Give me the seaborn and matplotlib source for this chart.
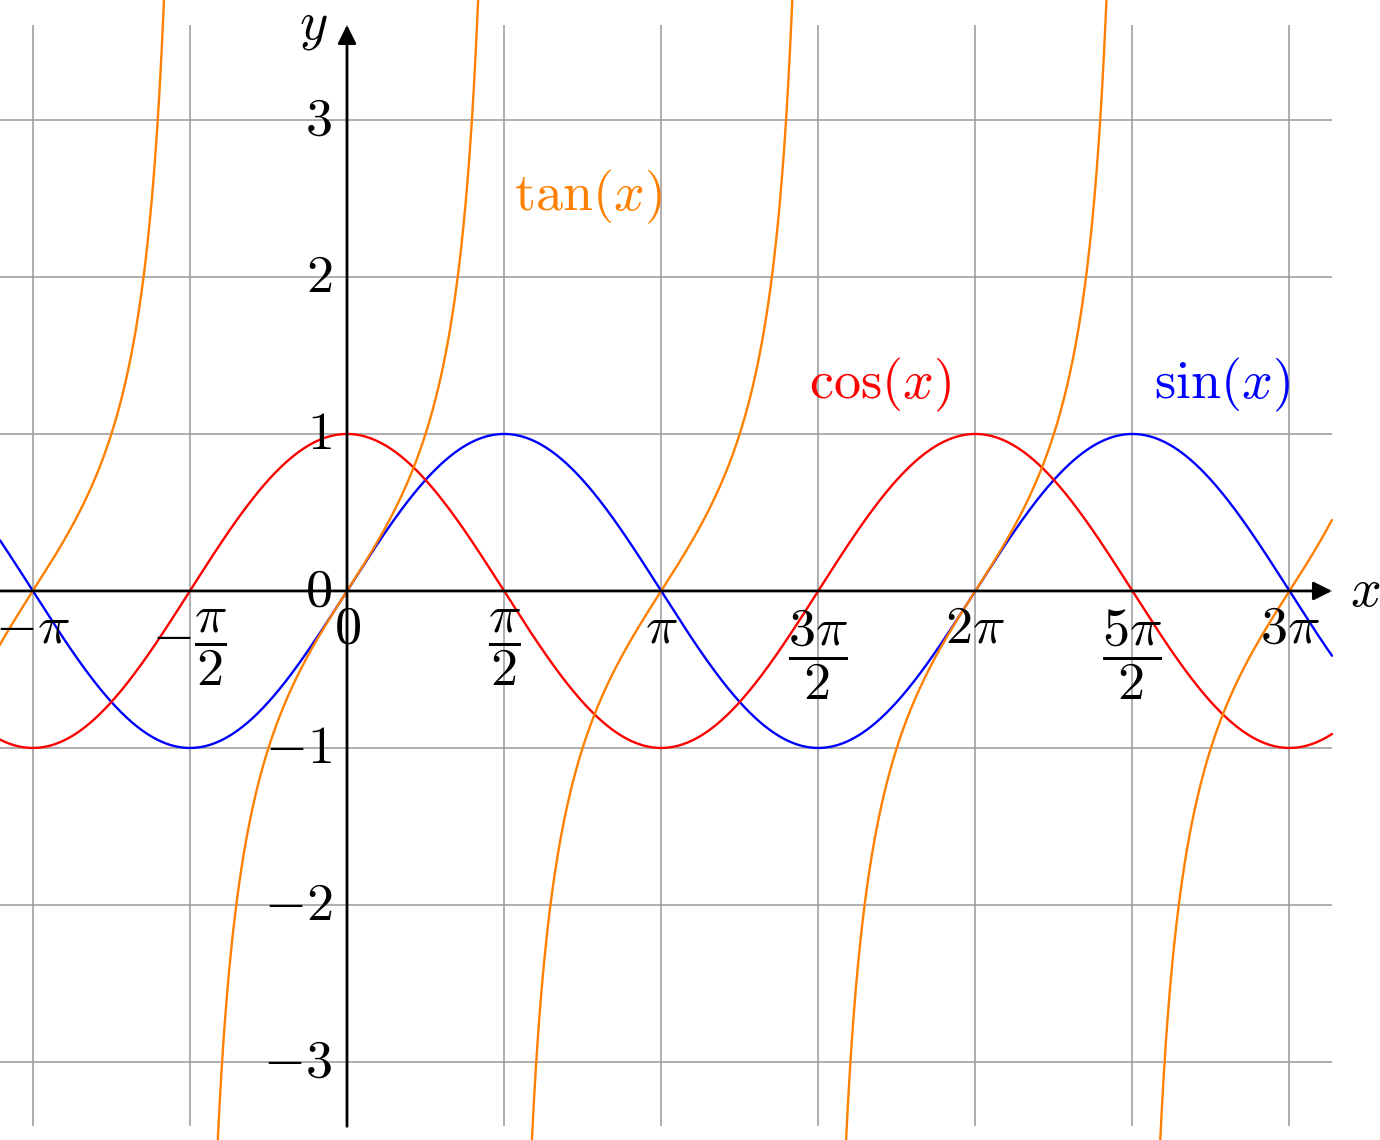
import numpy as np
import pandas as pd
import matplotlib
matplotlib.use("Agg")
import matplotlib.pyplot as plt
import seaborn as sns

# plotting domain and view
x_start, x_end = -3.47, 9.85
y_low, y_high = -3.41, 3.605
view_x = (-3.47, 10.33)
view_y = (-3.497, 3.764)

# ticks
x_ticks = [-np.pi, -np.pi / 2, 0, np.pi / 2, np.pi, 3 * np.pi / 2, 2 * np.pi, 5 * np.pi / 2, 3 * np.pi]
x_tick_labels = [r'$-\pi$', r'$-\dfrac{\pi}{2}$', r'$0$', r'$\dfrac{\pi}{2}$', r'$\pi$',
                 r'$\dfrac{3\pi}{2}$', r'$2\pi$', r'$\dfrac{5\pi}{2}$', r'$3\pi$']
y_ticks = [-3, -2, -1, 0, 1, 2, 3]
y_tick_labels = [r'$-3$', r'$-2$', r'$-1$', r'$0$', r'$1$', r'$2$', r'$3$']

# functions and labels
func_names = ['sin', 'cos', 'tan']
func_colors = {'sin': '#0000ff', 'cos': '#ff0000', 'tan': '#ff8000'}
func_labels = [r'$\sin(x)$', r'$\cos(x)$', r'$\tan(x)$']
label_pos = [(8.75, 1.31), (5.33, 1.31), (2.41, 2.51)]

sns.set_style('white')
plt.rcParams['mathtext.fontset'] = 'cm'
plt.rcParams['font.family'] = ['DejaVu Serif']

# build curve table
xs = np.linspace(x_start, x_end, 2000)
frames = [
    pd.DataFrame({'x': xs, 'y': np.sin(xs), 'func': 'sin', 'branch': 'sin'}),
    pd.DataFrame({'x': xs, 'y': np.cos(xs), 'func': 'cos', 'branch': 'cos'}),
]
# tan: one piece per branch between asymptotes
for k in range(-2, 4):
    a, b = (k - 0.5) * np.pi, (k + 0.5) * np.pi
    bx = np.linspace(max(a, x_start) + 1e-3, min(b, x_end) - 1e-3, 800)
    by = np.tan(bx)
    keep = np.abs(by) < 4.5
    if keep.sum() < 2:
        continue
    frames.append(pd.DataFrame({'x': bx[keep], 'y': by[keep], 'func': 'tan', 'branch': f'tan{k}'}))
curves = pd.concat(frames, ignore_index=True)

fig = plt.figure(figsize=(13.8, 11.4), dpi=100)
ax = fig.add_axes([0, 0, 1, 1])
ax.set_xlim(*view_x)
ax.set_ylim(*view_y)
ax.axis('off')

# grid
ax.vlines(x_ticks, y_low, y_high, color='#999999', lw=1.1, zorder=1)
ax.hlines(y_ticks, x_start, x_end, color='#999999', lw=1.1, zorder=1)

sns.lineplot(data=curves, x='x', y='y', hue='func', units='branch', estimator=None,
             palette=func_colors, hue_order=func_names, sort=False, lw=1.7,
             legend=False, ax=ax, zorder=3)

# axes with arrows
arrow = dict(arrowstyle='-|>', lw=2, color='black', mutation_scale=28, shrinkA=0, shrinkB=0)
ax.annotate('', xy=(x_end, 0), xytext=(x_start, 0), arrowprops=arrow, zorder=4)
ax.annotate('', xy=(0, y_high), xytext=(0, y_low), arrowprops=arrow, zorder=4)

fs = 39
for xt, lab in zip(x_ticks, x_tick_labels):
    dy = -0.1 if 'dfrac' in lab else -0.07
    ax.text(xt, dy, lab, ha='center', va='top', fontsize=fs, color='black', zorder=5)
for yt, lab in zip(y_ticks, y_tick_labels):
    ax.text(-0.15, yt, lab, ha='right', va='center', fontsize=fs, color='black', zorder=5)

ax.text(10.18, 0, r'$x$', ha='center', va='center', fontsize=fs, color='black')
ax.text(-0.34, 3.6, r'$y$', ha='center', va='center', fontsize=fs, color='black')

for name, lab, (tx, ty) in zip(func_names, func_labels, label_pos):
    ax.text(tx, ty, lab, ha='center', va='center', fontsize=fs, color=func_colors[name])

fig.savefig('out.png', dpi=100)
